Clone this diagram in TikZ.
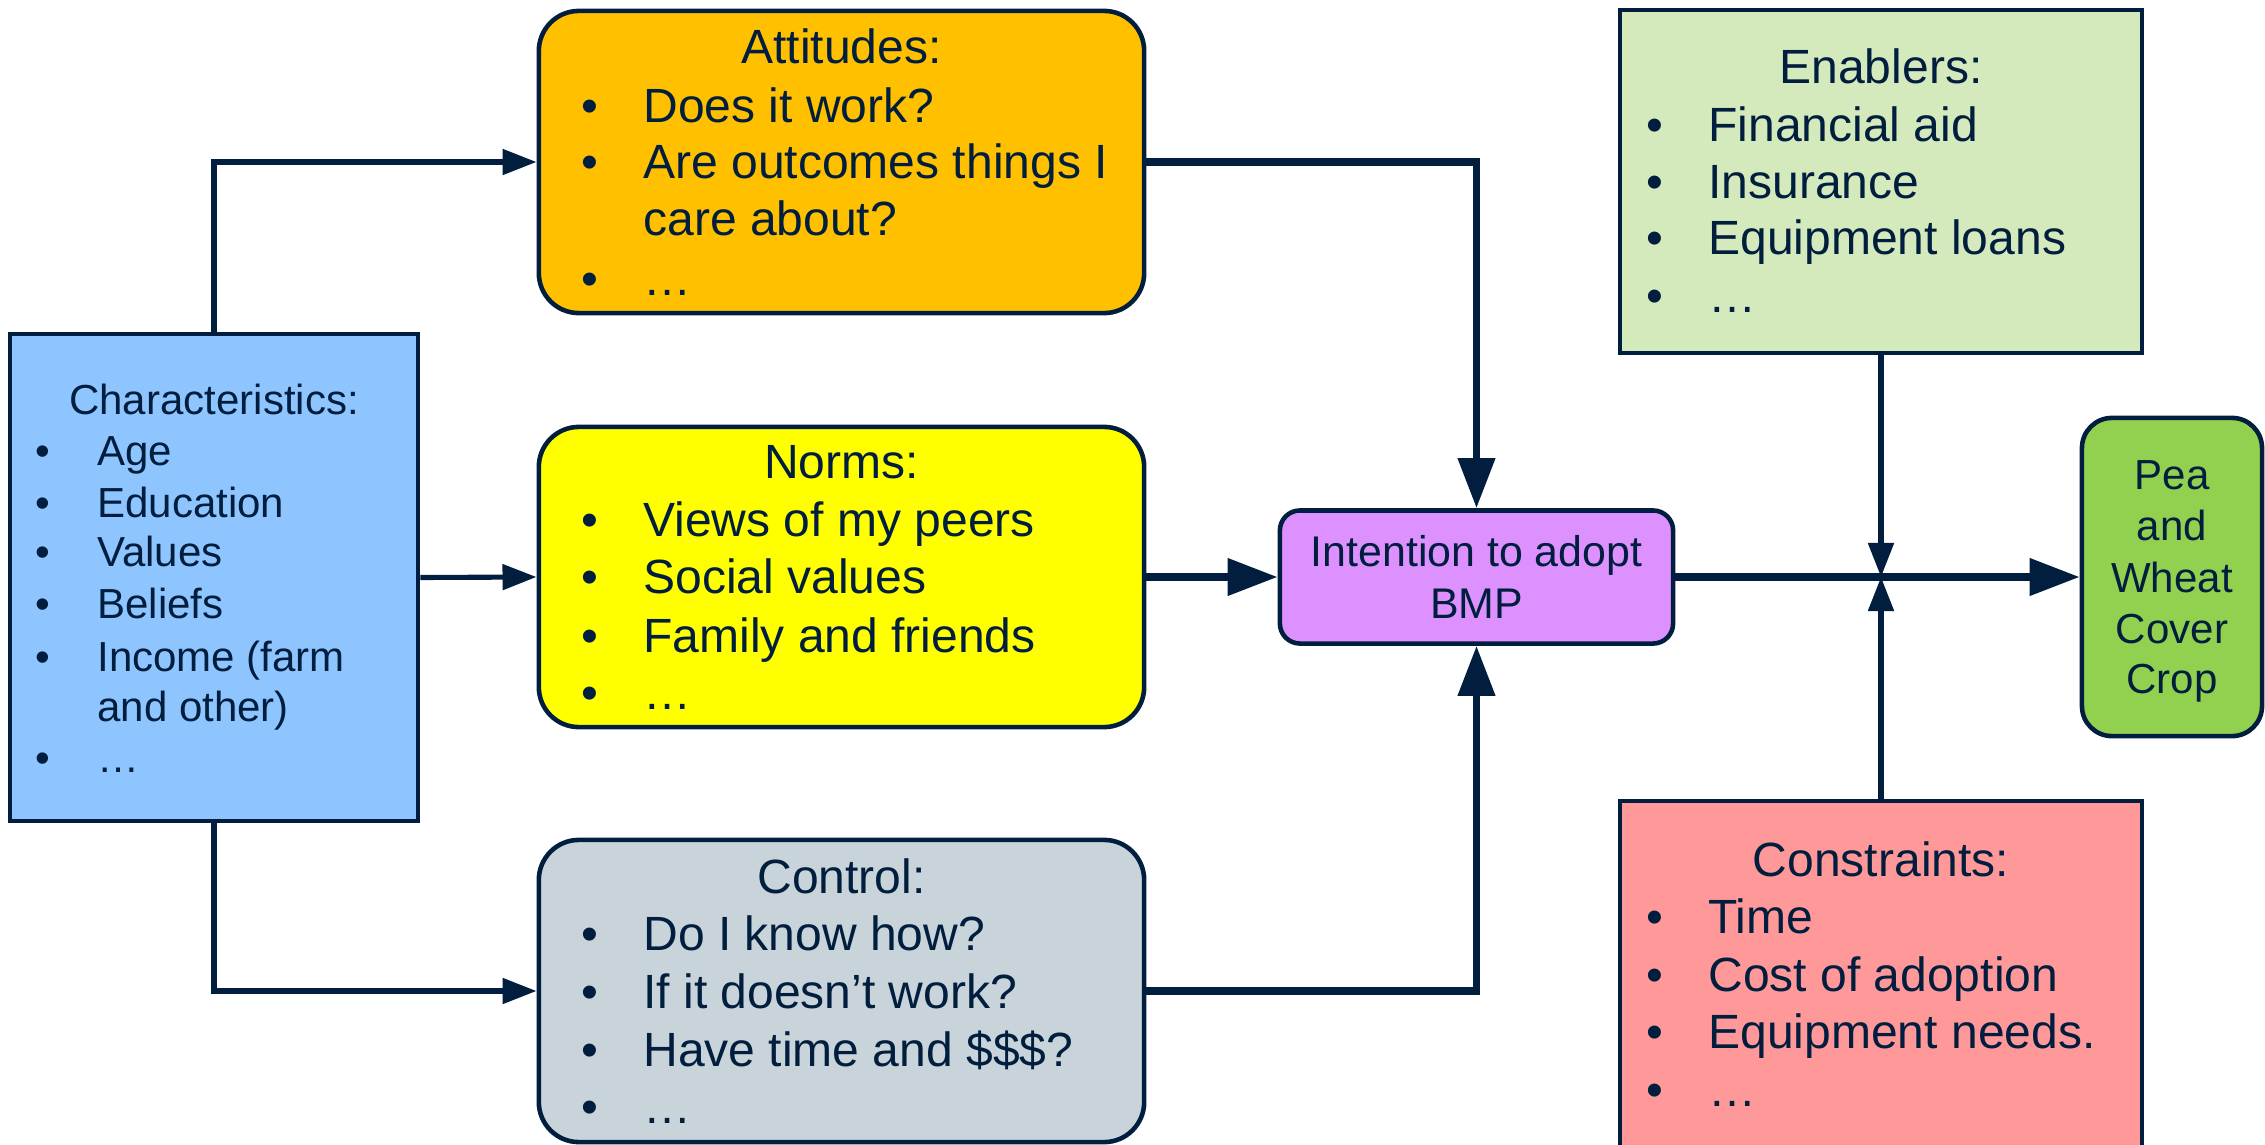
\documentclass[tikz,border=0pt]{standalone}
\usepackage{fontspec}
\setmainfont{Liberation Sans}
\usetikzlibrary{arrows.meta}
\definecolor{navy}{RGB}{2,30,62}
\definecolor{cblue}{RGB}{143,197,255}
\definecolor{catt}{RGB}{255,192,0}
\definecolor{cnorm}{RGB}{255,255,0}
\definecolor{cctrl}{RGB}{200,212,218}
\definecolor{cint}{RGB}{220,145,255}
\definecolor{cenab}{RGB}{213,234,188}
\definecolor{ccons}{RGB}{255,153,153}
\definecolor{cpea}{RGB}{146,208,80}
\newcommand\bu[1]{\makebox[0.62cm][l]{•}#1}
\begin{document}
\begin{tikzpicture}[x=0.01cm,y=-0.01cm,
 box/.style={draw=navy, line width=1.3pt, inner sep=0pt},
 rbox/.style={box, rounded corners=0.4cm},
 conn/.style={draw=navy, line width=1.45pt, -{Triangle[length=0.34cm,width=0.25cm]}},
 connb/.style={draw=navy, line width=2.1pt, -{Triangle[length=0.5cm,width=0.36cm]}},
 fbig/.style={font=\fontsize{13.66}{16}\selectfont},
 fsm/.style={font=\fontsize{11.95}{14}\selectfont},
 hd/.style={inner sep=0pt, anchor=base, text=navy},
 li/.style={inner sep=0pt, anchor=base west, text=navy},
]
\useasboundingbox (0,0) rectangle (2265,1145);

% boxes
\node[box, fill=cblue, minimum width=4.08cm, minimum height=4.87cm] (char) at (214,577.5) {};
\node[rbox, fill=catt, minimum width=6.05cm, minimum height=3.02cm] (att) at (841.5,162) {};
\node[rbox, fill=cnorm, minimum width=6.05cm, minimum height=3.00cm] (norm) at (841.5,577) {};
\node[rbox, fill=cctrl, minimum width=6.05cm, minimum height=3.02cm] (ctrl) at (841.5,991) {};
\node[box, fill=cint, rounded corners=0.2cm, minimum width=3.93cm, minimum height=1.33cm] (int) at (1476.5,577) {};
\node[box, fill=cenab, minimum width=5.22cm, minimum height=3.43cm] (enab) at (1881,181.5) {};
\node[box, fill=ccons, minimum width=5.22cm, minimum height=3.99cm] (cons) at (1881,1000.5) {};
\node[box, fill=cpea, rounded corners=0.3cm, minimum width=1.80cm, minimum height=3.18cm] (pea) at (2172,577) {};
\coordinate (meet) at (1881,577);

% connectors
\draw[conn] (char.north) |- (att.west);
\draw[conn] (char.east) -- (norm.west);
\draw[conn] (char.south) |- (ctrl.west);
\draw[connb] (att.east) -| (int.north);
\draw[connb] (norm.east) -- (int.west);
\draw[connb] (ctrl.east) -| (int.south);
\draw[connb] (int.east) -- (pea.west);
\draw[conn] (enab.south) -- (meet);
\draw[conn] (cons.north) -- (meet);

% Characteristics
\begin{scope}[every node/.append style={fsm}]
\node[hd] (c0) at (214,414) {Characteristics:};
\node[li] (c1) at (34.6,465) {\bu{Age}};
\node[li] (c2) at (34.6,517) {\bu{Education}};
\node[li] (c3) at (34.6,566) {\bu{Values}};
\node[li] (c4) at (34.6,618) {\bu{Beliefs}};
\node[li] (c5) at (34.6,671) {\bu{Income (farm}};
\node[li] (c6) at (96.6,721) {and other)};
\node[li] (c7) at (34.6,772) {\bu{…}};
\end{scope}

\begin{scope}[every node/.append style={fbig}]
% Attitudes
\node[hd] (a0) at (841.5,63) {Attitudes:};
\node[li] (a1) at (580.6,122) {\bu{Does it work?}};
\node[li] (a2) at (580.6,178) {\bu{Are outcomes things I}};
\node[li] (a3) at (642.6,235) {care about?};
\node[li] (a4) at (580.6,295) {\bu{…}};
% Norms
\node[hd] (n0) at (841.5,478) {Norms:};
\node[li] (n1) at (580.6,536) {\bu{Views of my peers}};
\node[li] (n2) at (580.6,593) {\bu{Social values}};
\node[li] (n3) at (580.6,652) {\bu{Family and friends}};
\node[li] (n4) at (580.6,709) {\bu{…}};
% Control
\node[hd] (k0) at (841.5,893) {Control:};
\node[li] (k1) at (580.6,950) {\bu{Do I know how?}};
\node[li] (k2) at (580.6,1008) {\bu{If it doesn’t work?}};
\node[li] (k3) at (580.6,1066) {\bu{Have time and \$\$\$?}};
\node[li] (k4) at (580.6,1123) {\bu{…}};
% Enablers
\node[hd] (e0) at (1881,83) {Enablers:};
\node[li] (e1) at (1645.6,141) {\bu{Financial aid}};
\node[li] (e2) at (1645.6,198) {\bu{Insurance}};
\node[li] (e3) at (1645.6,254) {\bu{Equipment loans}};
\node[li] (e4) at (1645.6,312) {\bu{…}};
% Constraints
\node[hd] (s0) at (1881,876) {Constraints:};
\node[li] (s1) at (1645.6,933) {\bu{Time}};
\node[li] (s2) at (1645.6,991) {\bu{Cost of adoption}};
\node[li] (s3) at (1645.6,1048) {\bu{Equipment needs.}};
\node[li] (s4) at (1645.6,1106) {\bu{…}};
\end{scope}

% Intention
\begin{scope}[every node/.append style={font=\fontsize{12.2}{14}\selectfont}]
\node[hd] (i1) at (1476.5,566) {Intention to adopt};
\node[hd] (i2) at (1476.5,618) {BMP};
\end{scope}

% Pea
\begin{scope}[every node/.append style={fsm}]
\node[hd] (p1) at (2172,489) {Pea};
\node[hd] (p2) at (2172,540) {and};
\node[hd] (p3) at (2172,592) {Wheat};
\node[hd] (p4) at (2172,643) {Cover};
\node[hd] (p5) at (2172,693) {Crop};
\end{scope}
\end{tikzpicture}
\end{document}
